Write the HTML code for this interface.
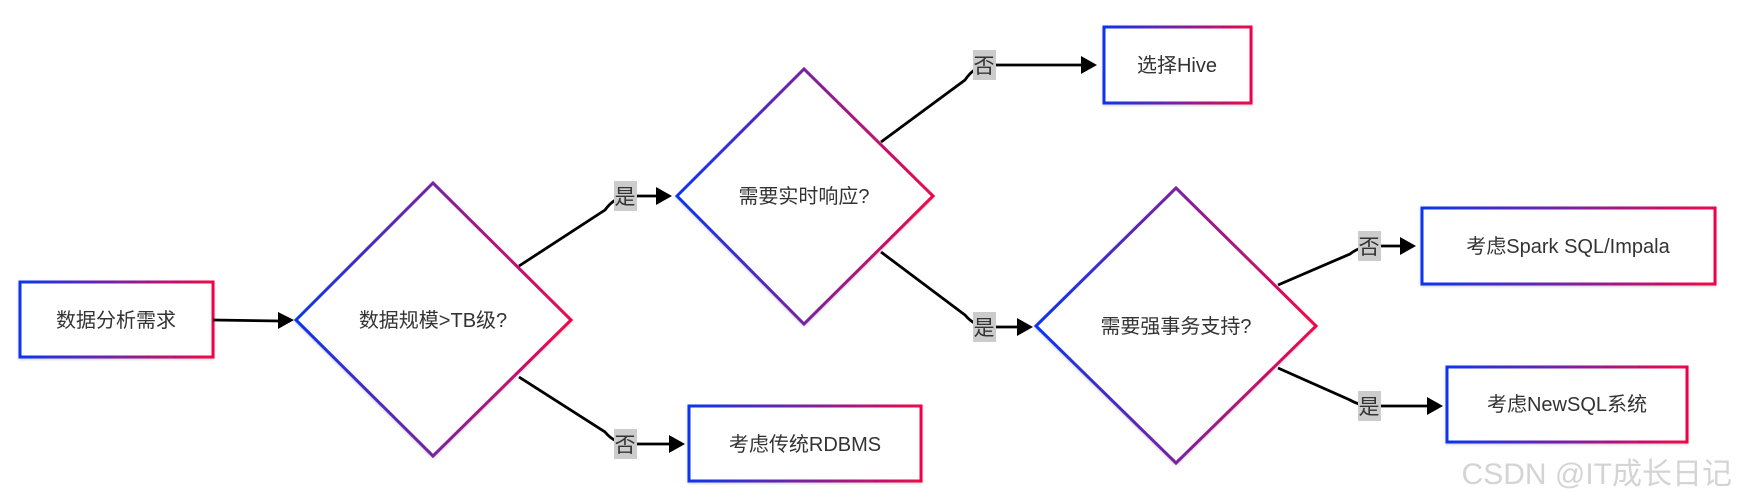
<!DOCTYPE html>
<html><head><meta charset="utf-8"><style>
html,body{margin:0;padding:0;background:#fff;}
svg{display:block;}
text{font-family:"Liberation Sans","Noto Sans CJK SC",sans-serif;fill:#333;}
</style></head><body>
<svg width="1738" height="502" viewBox="0 0 1738 502" xmlns="http://www.w3.org/2000/svg">
<defs>
<linearGradient id="g" x1="0" y1="0" x2="1" y2="0">
<stop offset="0" stop-color="#0a36f0"/><stop offset="0.5" stop-color="#7a22a0"/><stop offset="1" stop-color="#f0064a"/>
</linearGradient>
<marker id="a" markerWidth="10" markerHeight="10" refX="9" refY="5" orient="auto" markerUnits="userSpaceOnUse" viewBox="0 0 10 10">
</marker>
<filter id="s" x="-5%" y="-5%" width="110%" height="110%"><feDropShadow dx="0" dy="1" stdDeviation="1.2" flood-color="#000" flood-opacity="0.2"/></filter>
</defs>
<g fill="#fff" stroke="url(#g)" stroke-width="3" filter="url(#s)">
<rect x="20" y="282" width="193" height="75"/>
<polygon points="296,320 433,183 571,320 433,456"/>
<polygon points="677,196 804,69 933,196 804,324"/>
<rect x="1104" y="27" width="147" height="76"/>
<polygon points="1036,326 1176,188 1316,326 1176,463"/>
<rect x="1422" y="208" width="293" height="76"/>
<rect x="1447" y="367" width="240" height="75"/>
<rect x="689" y="406" width="232" height="75"/>
</g>
<g fill="none" stroke="#000" stroke-width="2.8">
<path d="M213,320 L280,321"/>
<path d="M519,266 L605,210 Q615,196 630,196 L658,196"/>
<path d="M519,377 L605,432 Q615,444 630,444 L671,444"/>
<path d="M881,142 L965,80 Q975,65 990,65 L1083,65"/>
<path d="M881,252 L965,315 Q975,327 990,327 L1019,327"/>
<path d="M1278,285 L1350,254 Q1360,246 1375,246 L1402,246"/>
<path d="M1278,368 L1350,400 Q1360,406 1375,406 L1429,406"/>
</g>
<g fill="#000">
<polygon points="294,320 278,312 278,329"/>
<polygon points="672,196 656,187 656,205"/>
<polygon points="685,444 669,435 669,453"/>
<polygon points="1097,65 1081,56 1081,74"/>
<polygon points="1033,327 1017,318 1017,336"/>
<polygon points="1416,246 1400,237 1400,255"/>
<polygon points="1443,406 1427,397 1427,415"/>
</g>
<g fill="#ccc">
<rect x="614" y="181" width="23" height="30"/>
<rect x="614" y="429" width="23" height="30"/>
<rect x="973" y="50" width="23" height="30"/>
<rect x="973" y="312" width="23" height="30"/>
<rect x="1358" y="231" width="23" height="30"/>
<rect x="1358" y="391" width="23" height="30"/>
</g>
<g font-size="21" text-anchor="middle">
<text x="625" y="204">是</text>
<text x="625" y="452">否</text>
<text x="984" y="73">否</text>
<text x="984" y="335">是</text>
<text x="1369" y="254">否</text>
<text x="1369" y="414">是</text>
</g>
<g font-size="20" text-anchor="middle">
<text x="116" y="327">数据分析需求</text>
<text x="433" y="327">数据规模&gt;TB级?</text>
<text x="804" y="203">需要实时响应?</text>
<text x="1177" y="72">选择Hive</text>
<text x="1176" y="333">需要强事务支持?</text>
<text x="1568" y="253">考虑Spark SQL/Impala</text>
<text x="1567" y="411">考虑NewSQL系统</text>
<text x="805" y="451">考虑传统RDBMS</text>
</g>
<text x="1732" y="484" font-size="30" text-anchor="end" style="fill:#d4d4d4">CSDN @IT成长日记</text>
</svg>
</body></html>
